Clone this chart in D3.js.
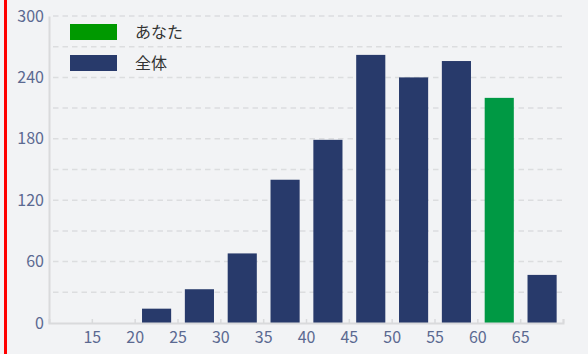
<!DOCTYPE html>
<html>
<head>
<meta charset="utf-8">
<script src="https://cdn.jsdelivr.net/npm/d3@7"></script>
<style>
html,body{margin:0;padding:0;background:#f2f3f5;}
svg{display:block;}
</style>
</head>
<body>
<svg id="chart" width="588" height="354"></svg>
<script>
// bins: 10-15, 15-20 ... 65-70
var bins=[10,15,20,25,30,35,40,45,50,55,60,65];
var counts=[0,0,14,33,68,140,179,262,240,256,220,47];
var youBin=60;
var xTicks=[15,20,25,30,35,40,45,50,55,60,65];
var yTicks=[0,60,120,180,240,300];
var legendNames=["あなた","全体"];

var navy="#283a6b", green="#009944", legGreen="#009900";

var svg=d3.select("#chart"),
 margin={top:16,right:25,bottom:31,left:49},
 width=+svg.attr("width")-margin.left-margin.right,
 height=+svg.attr("height")-margin.top-margin.bottom;

// red strip at left
svg.append("rect").attr("x",4).attr("y",0).attr("width",3).attr("height",354).attr("fill","#ff0000");

var g=svg.append("g").attr("transform","translate("+margin.left+","+margin.top+")");

var x=d3.scaleLinear().domain([10,70]).range([0,width]);
var y=d3.scaleLinear().domain([0,300]).range([height,0]);

// gridlines every 30
g.append("g").selectAll("line")
  .data(d3.range(30,301,30))
  .enter().append("line")
  .attr("x1",4).attr("x2",width)
  .attr("y1",function(d){return y(d);}).attr("y2",function(d){return y(d);})
  .attr("stroke","#dcdddf").attr("stroke-width",1.5).attr("stroke-dasharray","5.5,4");

var bw=x(15)-x(10), pad=0.32;
g.selectAll(".bar")
  .data(bins.map(function(b,i){return {b:b,v:counts[i]};}))
  .enter().append("rect")
  .attr("x",function(d){return x(d.b)+bw*pad/2+0.5;})
  .attr("width",bw*(1-pad))
  .attr("y",function(d){return y(d.v);})
  .attr("height",function(d){return height-y(d.v);})
  .attr("fill",function(d){return d.b==youBin?green:navy;});

// axes
var xa=g.append("g").attr("transform","translate(0,"+height+")")
  .call(d3.axisBottom(x).tickValues(xTicks.concat([70])).tickSize(-4).tickPadding(9).tickFormat(function(d){return d==70?"":d;}));
xa.select(".domain").attr("stroke","#d9dadc").attr("stroke-width",2);
xa.selectAll(".tick line").attr("stroke","#d9dadc").attr("stroke-width",1.5);
xa.selectAll("text").attr("fill","#5b6991").style("font-family","'Noto Sans CJK JP'").style("font-size","16px");

var ya=g.append("g")
  .call(d3.axisLeft(y).tickValues(yTicks).tickSize(0).tickPadding(5));
ya.select(".domain").attr("stroke","#d9dadc").attr("stroke-width",2);
ya.selectAll("text").attr("fill","#5b6991").style("font-family","'Noto Sans CJK JP'").style("font-size","16px");

// legend
var leg=svg.append("g").selectAll("g")
  .data(legendNames)
  .enter().append("g")
  .attr("transform",function(d,i){return "translate(70,"+(24+i*31)+")";});
leg.append("rect").attr("width",47).attr("height",16)
  .attr("fill",function(d,i){return i==0?legGreen:navy;});
leg.append("text").attr("x",65).attr("y",8).attr("dy","0.35em")
  .attr("fill","#333").style("font-family","'Noto Sans CJK JP'").style("font-size","16px")
  .text(function(d){return d;});
</script>
</body>
</html>
